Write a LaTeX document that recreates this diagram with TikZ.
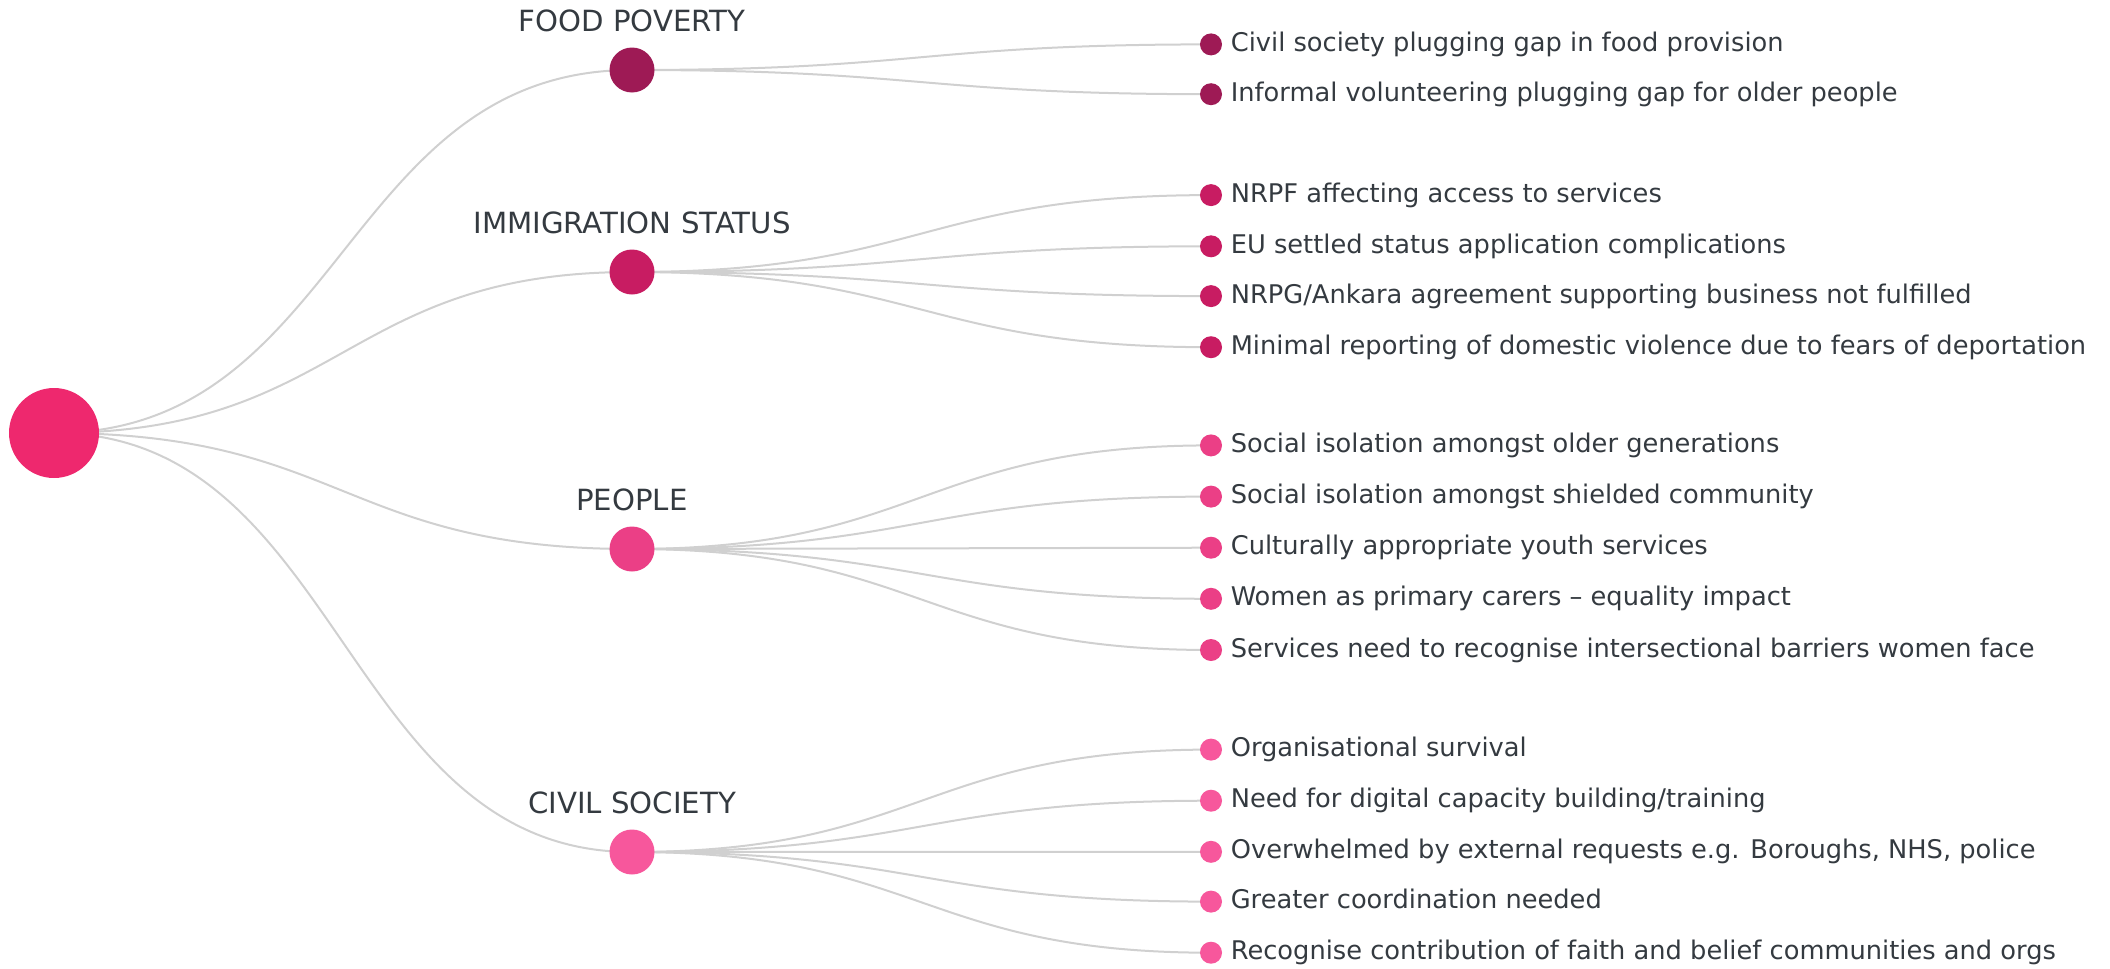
\documentclass[tikz,border=0pt]{standalone}
\usepackage{fontspec}
\setmainfont{DejaVu Sans}
\usepackage{tikz}
\usetikzlibrary{positioning,backgrounds}
\definecolor{rootPink}{RGB}{238,40,110}
\definecolor{foodC}{RGB}{158,26,85}
\definecolor{immC}{RGB}{200,28,98}
\definecolor{peopleC}{RGB}{235,63,134}
\definecolor{civilC}{RGB}{247,87,156}
\definecolor{linkGray}{RGB}{208,208,208}
\definecolor{txtGray}{RGB}{52,58,64}

\begin{document}
\begin{tikzpicture}[
  x=0.5pt, y=-0.5pt,
  hub/.style={circle, fill=#1, inner sep=0pt, minimum size=22.5pt},
  dot/.style={circle, fill=#1, inner sep=0pt, minimum size=11pt},
  catlab/.style={anchor=base, inner sep=0pt, text=txtGray, font=\fontsize{14.6}{17}\selectfont},
  leaf/.style={right=4pt of #1, inner sep=0pt, text=txtGray, text height=1.5ex, text depth=.2ex, font=\fontsize{12.85}{16}\selectfont},
  link/.style={draw=linkGray, line width=1pt}
]
  \useasboundingbox (0,0) rectangle (2110,969);

  % root and the four themes
  \node[circle, fill=rootPink, inner sep=0pt, minimum size=45pt] (root) at (54,433) {};
  \node[hub=foodC] (food) at (632,70) {};
  \node[hub=immC] (imm) at (632,272) {};
  \node[hub=peopleC] (people) at (632,549) {};
  \node[hub=civilC] (civil) at (632,852) {};

  \node[catlab] (foodlab) at ([yshift=8pt]food.north) {FOOD POVERTY};
  \node[catlab] (immlab) at ([yshift=8pt]imm.north) {IMMIGRATION STATUS};
  \node[catlab] (peoplelab) at ([yshift=8pt]people.north) {PEOPLE};
  \node[catlab] (civillab) at ([yshift=8pt]civil.north) {CIVIL SOCIETY};

  % food poverty
  \node[dot=foodC] (f1) at (1211,44.4) {};
  \node[dot=foodC] (f2) at (1211,94.2) {};
  \node[leaf=f1] (f1t) {Civil society plugging gap in food provision};
  \node[leaf=f2] (f2t) {Informal volunteering plugging gap for older people};

  % immigration status
  \node[dot=immC] (i1) at (1211,195.1) {};
  \node[dot=immC] (i2) at (1211,246.3) {};
  \node[dot=immC] (i3) at (1211,296.1) {};
  \node[dot=immC] (i4) at (1211,347.2) {};
  \node[leaf=i1] (i1t) {NRPF affecting access to services};
  \node[leaf=i2] (i2t) {EU settled status application complications};
  \node[leaf=i3] (i3t) {NRPG/Ankara agreement supporting business not fulfilled};
  \node[leaf=i4] (i4t) {Minimal reporting of domestic violence due to fears of deportation};

  % people
  \node[dot=peopleC] (p1) at (1211,445.4) {};
  \node[dot=peopleC] (p2) at (1211,496.6) {};
  \node[dot=peopleC] (p3) at (1211,547.7) {};
  \node[dot=peopleC] (p4) at (1211,598.8) {};
  \node[dot=peopleC] (p5) at (1211,650.0) {};
  \node[leaf=p1] (p1t) {Social isolation amongst older generations};
  \node[leaf=p2] (p2t) {Social isolation amongst shielded community};
  \node[leaf=p3] (p3t) {Culturally appropriate youth services};
  \node[leaf=p4] (p4t) {Women as primary carers -- equality impact};
  \node[leaf=p5] (p5t) {Services need to recognise intersectional barriers women face};

  % civil society
  \node[dot=civilC] (c1) at (1211,749.6) {};
  \node[dot=civilC] (c2) at (1211,800.7) {};
  \node[dot=civilC] (c3) at (1211,851.8) {};
  \node[dot=civilC] (c4) at (1211,901.6) {};
  \node[dot=civilC] (c5) at (1211,952.7) {};
  \node[leaf=c1] (c1t) {Organisational survival};
  \node[leaf=c2] (c2t) {Need for digital capacity building/training};
  \node[leaf=c3] (c3t) {Overwhelmed by external requests e.g. Boroughs, NHS, police};
  \node[leaf=c4] (c4t) {Greater coordination needed};
  \node[leaf=c5] (c5t) {Recognise contribution of faith and belief communities and orgs};

  \begin{scope}[on background layer]
    \draw[link] (root.center) .. controls +(289,0) and +(-289,0) .. (food.center);
    \draw[link] (root.center) .. controls +(289,0) and +(-289,0) .. (imm.center);
    \draw[link] (root.center) .. controls +(289,0) and +(-289,0) .. (people.center);
    \draw[link] (root.center) .. controls +(289,0) and +(-289,0) .. (civil.center);

    \draw[link] (food.center) .. controls +(289,0) and +(-289,0) .. (f1.center);
    \draw[link] (food.center) .. controls +(289,0) and +(-289,0) .. (f2.center);

    \draw[link] (imm.center) .. controls +(289,0) and +(-289,0) .. (i1.center);
    \draw[link] (imm.center) .. controls +(289,0) and +(-289,0) .. (i2.center);
    \draw[link] (imm.center) .. controls +(289,0) and +(-289,0) .. (i3.center);
    \draw[link] (imm.center) .. controls +(289,0) and +(-289,0) .. (i4.center);

    \draw[link] (people.center) .. controls +(289,0) and +(-289,0) .. (p1.center);
    \draw[link] (people.center) .. controls +(289,0) and +(-289,0) .. (p2.center);
    \draw[link] (people.center) .. controls +(289,0) and +(-289,0) .. (p3.center);
    \draw[link] (people.center) .. controls +(289,0) and +(-289,0) .. (p4.center);
    \draw[link] (people.center) .. controls +(289,0) and +(-289,0) .. (p5.center);

    \draw[link] (civil.center) .. controls +(289,0) and +(-289,0) .. (c1.center);
    \draw[link] (civil.center) .. controls +(289,0) and +(-289,0) .. (c2.center);
    \draw[link] (civil.center) .. controls +(289,0) and +(-289,0) .. (c3.center);
    \draw[link] (civil.center) .. controls +(289,0) and +(-289,0) .. (c4.center);
    \draw[link] (civil.center) .. controls +(289,0) and +(-289,0) .. (c5.center);
  \end{scope}
\end{tikzpicture}
\end{document}
